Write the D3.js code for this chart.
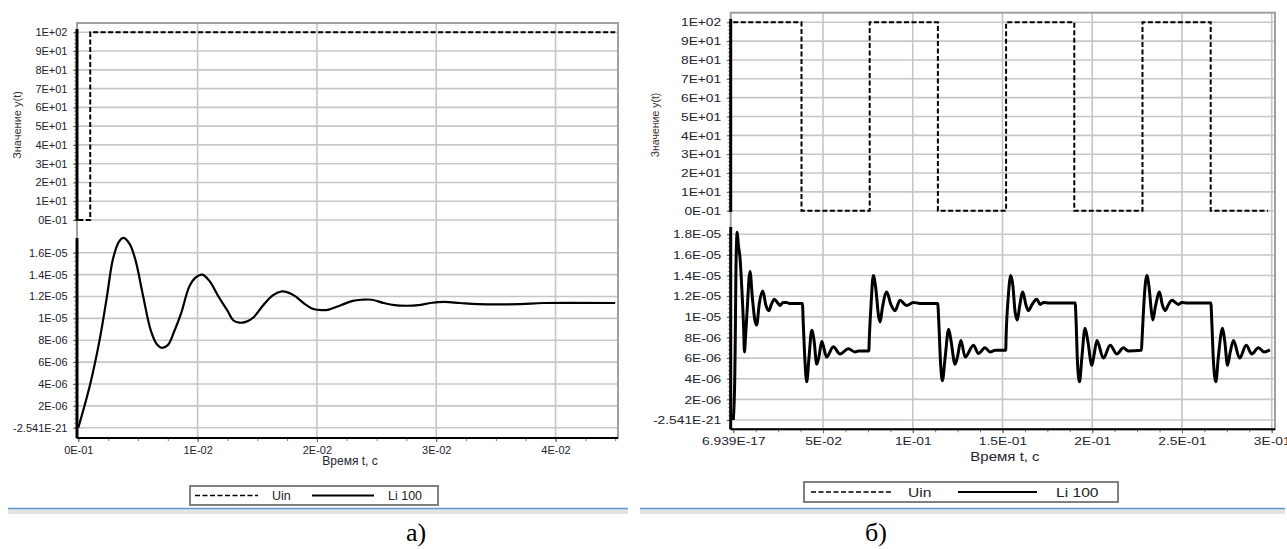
<!DOCTYPE html>
<html>
<head>
<meta charset="utf-8">
<script src="https://cdn.jsdelivr.net/npm/d3@7"></script>
<style>
  body { margin: 0; background: #fff; }
  svg { display: block; font-family: "Liberation Sans", Arial, sans-serif; }
</style>
</head>
<body>
<script>
// tick values and labels shared by both panels
const uinTicks = [0, 10, 20, 30, 40, 50, 60, 70, 80, 90, 100];
const uinTickLabels = ["0E-01", "1E+01", "2E+01", "3E+01", "4E+01", "5E+01", "6E+01", "7E+01", "8E+01", "9E+01", "1E+02"];

// panel a) - single step
const aTimeTicks = [0, 0.01, 0.02, 0.03, 0.04];
const aTimeLabels = ["0E-01", "1E-02", "2E-02", "3E-02", "4E-02"];
const aLiTicks = [0, 2e-6, 4e-6, 6e-6, 8e-6, 1e-5, 1.2e-5, 1.4e-5, 1.6e-5];
const aLiLabels = ["-2.541E-21", "2E-06", "4E-06", "6E-06", "8E-06", "1E-05", "1.2E-05", "1.4E-05", "1.6E-05"];
const aUin = [[0, 0], [0.001, 0], [0.001, 100], [0.045, 100]];
const aLi = [
  [0, 0], [0.001, 4.0e-6], [0.0018, 8.1e-6], [0.0024, 1.2e-5], [0.0029, 1.54e-5], [0.0034, 1.70e-5],
  [0.0038, 1.735e-5], [0.0043, 1.68e-5], [0.0048, 1.53e-5], [0.0054, 1.22e-5], [0.0061, 8.8e-6],
  [0.0066, 7.6e-6], [0.0070, 7.3e-6], [0.0075, 7.55e-6], [0.0080, 8.7e-6], [0.0086, 1.04e-5],
  [0.0093, 1.29e-5], [0.0098, 1.37e-5], [0.0104, 1.40e-5], [0.0110, 1.34e-5], [0.0118, 1.19e-5],
  [0.0125, 1.07e-5], [0.0130, 9.8e-6], [0.0135, 9.6e-6], [0.0141, 9.7e-6], [0.0147, 1.01e-5],
  [0.0155, 1.12e-5], [0.0163, 1.21e-5], [0.0170, 1.245e-5], [0.0176, 1.235e-5], [0.0182, 1.20e-5],
  [0.0190, 1.13e-5], [0.0197, 1.085e-5], [0.0204, 1.075e-5], [0.0210, 1.08e-5], [0.0220, 1.12e-5],
  [0.0230, 1.16e-5], [0.0238, 1.17e-5], [0.0246, 1.17e-5], [0.0256, 1.14e-5], [0.0265, 1.12e-5],
  [0.0275, 1.115e-5], [0.0285, 1.12e-5], [0.0295, 1.14e-5], [0.0307, 1.15e-5], [0.0320, 1.14e-5],
  [0.0335, 1.13e-5], [0.0370, 1.13e-5], [0.0390, 1.14e-5], [0.0450, 1.14e-5]
];

// panel б) - pulse train
const bTimeTicks = [0, 0.05, 0.1, 0.15, 0.2, 0.25, 0.3];
const bTimeLabels = ["6.939E-17", "5E-02", "1E-01", "1.5E-01", "2E-01", "2.5E-01", "3E-01"];
const bLiTicks = [0, 2e-6, 4e-6, 6e-6, 8e-6, 1e-5, 1.2e-5, 1.4e-5, 1.6e-5, 1.8e-5];
const bLiLabels = ["-2.541E-21", "2E-06", "4E-06", "6E-06", "8E-06", "1E-05", "1.2E-05", "1.4E-05", "1.6E-05", "1.8E-05"];
const bUin = [
  [0, 100], [0.038, 100], [0.038, 0], [0.076, 0], [0.076, 100], [0.114, 100], [0.114, 0], [0.152, 0],
  [0.152, 100], [0.19, 100], [0.19, 0], [0.228, 0], [0.228, 100], [0.266, 100], [0.266, 0], [0.298, 0]
];
const bLi = [
  [0, 0], [0.0008, 3.9e-6], [0.0011, 7.7e-6], [0.0015, 1.5e-5], [0.0022, 1.82e-5], [0.0028, 1.7e-5],
  [0.0037, 1.58e-5], [0.0047, 1.29e-5], [0.0058, 8.7e-6], [0.0062, 6.6e-6], [0.0068, 8.0e-6],
  [0.0076, 1.03e-5], [0.0093, 1.44e-5], [0.0106, 1.19e-5], [0.0120, 9.7e-6], [0.0130, 9.2e-6],
  [0.0145, 1.13e-5], [0.0164, 1.25e-5], [0.0182, 1.11e-5], [0.0199, 1.06e-5], [0.0212, 1.12e-5],
  [0.0229, 1.17e-5], [0.0245, 1.14e-5], [0.0260, 1.11e-5], [0.0278, 1.14e-5], [0.0298, 1.14e-5],
  [0.0310, 1.13e-5], [0.0385, 1.13e-5],
  [0.0390, 9.3e-6], [0.0400, 5.5e-6], [0.0409, 3.7e-6], [0.0422, 6.1e-6], [0.0437, 8.7e-6],
  [0.0450, 7.7e-6], [0.0465, 5.4e-6], [0.0478, 6.2e-6], [0.0493, 7.6e-6], [0.0520, 6.1e-6],
  [0.0557, 7.1e-6], [0.0595, 6.4e-6], [0.0641, 6.9e-6], [0.0678, 6.6e-6], [0.0700, 6.7e-6],
  [0.0755, 6.7e-6],
  [0.0758, 8.0e-6], [0.0767, 1.1e-5], [0.0780, 1.40e-5], [0.0793, 1.29e-5], [0.0810, 1.0e-5],
  [0.0818, 9.5e-6], [0.0830, 1.08e-5], [0.0855, 1.24e-5], [0.0878, 1.12e-5], [0.0901, 1.06e-5],
  [0.0929, 1.16e-5], [0.0966, 1.11e-5], [0.1003, 1.14e-5], [0.1040, 1.13e-5], [0.1139, 1.13e-5],
  [0.1145, 9.5e-6], [0.1155, 5.5e-6], [0.1165, 3.8e-6], [0.1180, 6.0e-6], [0.1200, 8.8e-6],
  [0.1212, 7.8e-6], [0.1236, 5.4e-6], [0.1250, 6.2e-6], [0.1268, 7.7e-6], [0.1292, 6.1e-6],
  [0.1338, 7.25e-6], [0.1366, 6.45e-6], [0.1403, 7.0e-6], [0.1431, 6.6e-6], [0.1460, 6.75e-6],
  [0.1518, 6.75e-6],
  [0.1520, 8.0e-6], [0.1532, 1.19e-5], [0.1546, 1.40e-5], [0.1558, 1.3e-5], [0.1570, 1.05e-5],
  [0.1583, 9.7e-6], [0.1595, 1.1e-5], [0.1613, 1.24e-5], [0.1630, 1.12e-5], [0.1644, 1.06e-5],
  [0.1665, 1.12e-5], [0.1691, 1.17e-5], [0.1710, 1.12e-5], [0.1730, 1.14e-5], [0.1760, 1.135e-5],
  [0.1905, 1.135e-5],
  [0.1910, 9.6e-6], [0.1918, 5.5e-6], [0.1929, 3.7e-6], [0.1942, 6.0e-6], [0.1960, 8.9e-6],
  [0.1975, 7.7e-6], [0.1998, 5.3e-6], [0.2010, 6.3e-6], [0.2026, 7.7e-6], [0.2062, 6.0e-6],
  [0.2100, 7.25e-6], [0.2137, 6.4e-6], [0.2174, 7.0e-6], [0.2200, 6.7e-6], [0.2274, 6.75e-6],
  [0.2278, 8.0e-6], [0.2290, 1.19e-5], [0.2304, 1.40e-5], [0.2316, 1.3e-5], [0.2330, 1.05e-5],
  [0.2338, 9.7e-6], [0.2352, 1.1e-5], [0.2375, 1.24e-5], [0.2390, 1.12e-5], [0.2406, 1.06e-5],
  [0.2425, 1.12e-5], [0.2444, 1.16e-5], [0.2481, 1.12e-5], [0.2500, 1.14e-5], [0.2530, 1.135e-5],
  [0.2661, 1.135e-5],
  [0.2666, 9.6e-6], [0.2676, 5.5e-6], [0.2689, 3.7e-6], [0.2702, 6.0e-6], [0.2726, 8.9e-6],
  [0.2738, 7.7e-6], [0.2754, 5.3e-6], [0.2768, 6.5e-6], [0.2787, 7.7e-6], [0.2821, 6.0e-6],
  [0.2858, 7.25e-6], [0.2889, 6.4e-6], [0.2926, 7.0e-6], [0.2957, 6.6e-6], [0.2990, 6.8e-6]
];

const svg = d3.select("body").append("svg")
  .attr("width", 1287)
  .attr("height", 549);

// text helper, sx stretches the glyphs horizontally like the screenshot does
function label(g, txt, x, y, size, sx, anchor, fill) {
  return g.append("text")
    .attr("transform", `translate(${x},${y}) scale(${sx},1)`)
    .attr("text-anchor", anchor)
    .attr("font-size", size)
    .attr("fill", fill || "#222")
    .text(txt);
}

function drawPanel(p) {
  const g = svg.append("g");

  const x = d3.scaleLinear().domain([0, p.tMax]).range(p.xRange);
  const yUp = d3.scaleLinear().domain([0, 100]).range(p.upRange);
  const yLo = d3.scaleLinear().domain([0, p.liMax]).range(p.loRange);

  // grid
  const grid = g.append("g").attr("stroke", "#c6c6c6").attr("stroke-width", 1.6);
  grid.selectAll(".vg").data(p.timeTicks.slice(1)).join("line")
    .attr("x1", d => x(d)).attr("x2", d => x(d))
    .attr("y1", p.top).attr("y2", p.bottom);
  grid.selectAll(".hu").data(uinTicks).join("line")
    .attr("x1", p.left).attr("x2", p.right)
    .attr("y1", d => yUp(d)).attr("y2", d => yUp(d));
  grid.selectAll(".hl").data(p.liTicks).join("line")
    .attr("x1", p.left).attr("x2", p.right)
    .attr("y1", d => yLo(d)).attr("y2", d => yLo(d));

  // frame
  g.append("rect")
    .attr("x", p.left).attr("y", p.top)
    .attr("width", p.right - p.left).attr("height", p.bottom - p.top)
    .attr("fill", "none").attr("stroke", "#a0a0a0").attr("stroke-width", 2);

  // minor ruler ticks on the y axis
  const minorUp = d3.range(0, 100.001, 2);
  const minorLo = d3.range(0, p.liMax * 1.0001, p.liTicks[1] / 5);
  g.append("g").attr("stroke", "#9a9a9a").attr("stroke-width", 1)
    .selectAll("line").data(minorUp.map(yUp).concat(minorLo.map(yLo))).join("line")
    .attr("x1", p.left - 3).attr("x2", p.left)
    .attr("y1", d => d).attr("y2", d => d);

  // y axes, one per section
  function yAxis(scale, ticks, labels) {
    const ax = g.append("g")
      .attr("transform", `translate(${p.left},0)`)
      .call(d3.axisLeft(scale).tickValues(ticks).tickFormat((d, i) => labels[i]).tickSize(4).tickPadding(6));
    ax.select(".domain").remove();
    ax.selectAll(".tick line").attr("stroke", "#666");
    ax.selectAll("text")
      .attr("font-size", p.tickFont)
      .attr("font-family", "Liberation Sans, Arial, sans-serif")
      .attr("fill", "#23232f")
      .attr("x", -9.5 / p.sx)
      .attr("transform", `scale(${p.sx},1)`);
  }
  yAxis(yUp, uinTicks, uinTickLabels);
  yAxis(yLo, p.liTicks, p.liLabels);

  // thick axis segments
  g.append("line").attr("x1", p.left).attr("x2", p.left)
    .attr("y1", p.upAxis[0]).attr("y2", p.upAxis[1])
    .attr("stroke", "#000").attr("stroke-width", 3);
  g.append("line").attr("x1", p.left).attr("x2", p.left)
    .attr("y1", p.loAxis[0]).attr("y2", p.bottom)
    .attr("stroke", "#000").attr("stroke-width", 3);

  // x axis
  const xa = g.append("g")
    .attr("transform", `translate(0,${p.bottom})`)
    .call(d3.axisBottom(x).tickValues(p.timeTicks).tickFormat((d, i) => p.timeLabels[i]).tickSize(4).tickPadding(4));
  xa.select(".domain").remove();
  xa.selectAll(".tick line").attr("stroke", "#555");
  xa.selectAll("text")
    .attr("font-size", p.tickFont)
    .attr("font-family", "Liberation Sans, Arial, sans-serif")
    .attr("fill", "#23232f")
    .attr("transform", `scale(${p.sx},1)`);
  g.append("g")
    .attr("transform", `translate(0,${p.bottom})`)
    .call(d3.axisBottom(x).tickValues(d3.range(0, p.tMax * 1.0001, p.minorStep)).tickFormat("").tickSize(3))
    .call(s => s.select(".domain").remove())
    .selectAll("line").attr("stroke", "#777");
  g.append("line").attr("x1", p.left).attr("x2", p.right)
    .attr("y1", p.bottom).attr("y2", p.bottom)
    .attr("stroke", "#000").attr("stroke-width", 2);

  // series
  const uinLine = d3.line().x(d => x(d[0])).y(d => yUp(d[1]));
  const liLine = d3.line().x(d => x(d[0])).y(d => yLo(d[1])).curve(p.curve);
  g.append("path").datum(p.uin)
    .attr("d", uinLine).attr("fill", "none")
    .attr("stroke", "#000").attr("stroke-width", 2).attr("stroke-dasharray", "5,2.5");
  g.append("path").datum(p.li)
    .attr("d", liLine).attr("fill", "none")
    .attr("stroke", "#000").attr("stroke-width", p.liWidth).attr("stroke-linejoin", "round");

  // axis titles
  label(g, "Значение y(t)", 0, 0, p.titleFont, 1, "middle", "#333")
    .attr("transform", `translate(${p.yTitle[0]},${p.yTitle[1]}) rotate(-90)`);
  label(g, "Время t, с", p.xTitle[0], p.xTitle[1], p.xTitleFont, p.sx, "middle", "#23232f");

  // legend
  const L = p.legend;
  g.append("rect").attr("x", L.x).attr("y", L.y).attr("width", L.w).attr("height", L.h)
    .attr("fill", "#fff").attr("stroke", "#808080").attr("stroke-width", 2);
  const cy = L.y + L.h / 2;
  g.append("line").attr("x1", L.dash[0]).attr("x2", L.dash[1]).attr("y1", cy).attr("y2", cy)
    .attr("stroke", "#000").attr("stroke-width", 1.5).attr("stroke-dasharray", "5,2.5");
  label(g, "Uin", L.uinX, cy + 4.5, p.legendFont, p.sx, "start", "#222");
  g.append("line").attr("x1", L.solid[0]).attr("x2", L.solid[1]).attr("y1", cy).attr("y2", cy)
    .attr("stroke", "#000").attr("stroke-width", 2);
  label(g, "Li 100", L.liX, cy + 4.5, p.legendFont, p.sx, "start", "#222");

  // window edge under the chart
  g.append("rect").attr("x", p.edge[0]).attr("y", 509).attr("width", p.edge[1] - p.edge[0]).attr("height", 5)
    .attr("fill", "#e3e3e3");
  g.append("line").attr("x1", p.edge[0]).attr("x2", p.edge[1]).attr("y1", 508.5).attr("y2", 508.5)
    .attr("stroke", "#5b9bd5").attr("stroke-width", 1.5);

  // caption
  g.append("text")
    .attr("x", p.caption[0]).attr("y", p.caption[1])
    .attr("text-anchor", "middle")
    .attr("font-family", "Liberation Serif, Times New Roman, serif")
    .attr("font-size", 26)
    .attr("fill", "#000")
    .text(p.captionText);
}

drawPanel({
  left: 77, right: 618, top: 23, bottom: 438,
  tMax: 0.045, xRange: [78.3, 615.2], minorStep: 0.0025,
  upRange: [220, 32.3], upAxis: [29, 221],
  liMax: 1.6e-5, loRange: [427.7, 252.7], loAxis: [238],
  timeTicks: aTimeTicks, timeLabels: aTimeLabels,
  liTicks: aLiTicks, liLabels: aLiLabels,
  uin: aUin, li: aLi, liWidth: 2.2, curve: d3.curveCatmullRom.alpha(0.5),
  sx: 1, tickFont: 11, titleFont: 11, xTitleFont: 12, legendFont: 12.5,
  yTitle: [21, 125], xTitle: [350, 465],
  legend: { x: 190, y: 486, w: 248, h: 19, dash: [195, 258], uinX: 272, solid: [312, 374], liX: 388 },
  edge: [8, 628], caption: [416, 541], captionText: "а)"
});

drawPanel({
  left: 730.7, right: 1275, top: 12.7, bottom: 429.3,
  tMax: 0.3, xRange: [733.3, 1271.7], minorStep: 0.0125,
  upRange: [210.7, 22.3], upAxis: [19, 212],
  liMax: 1.8e-5, loRange: [420, 234.3], loAxis: [227],
  timeTicks: bTimeTicks, timeLabels: bTimeLabels,
  liTicks: bLiTicks, liLabels: bLiLabels,
  uin: bUin, li: bLi, liWidth: 3, curve: d3.curveMonotoneX,
  sx: 1.2, tickFont: 11.5, titleFont: 10.5, xTitleFont: 12.5, legendFont: 13,
  yTitle: [659, 125], xTitle: [1005, 461],
  legend: { x: 804, y: 482, w: 314, h: 20, dash: [811, 891], uinX: 908, solid: [958, 1037], liX: 1056 },
  edge: [640, 1285], caption: [876, 541], captionText: "б)"
});
</script>
</body>
</html>
